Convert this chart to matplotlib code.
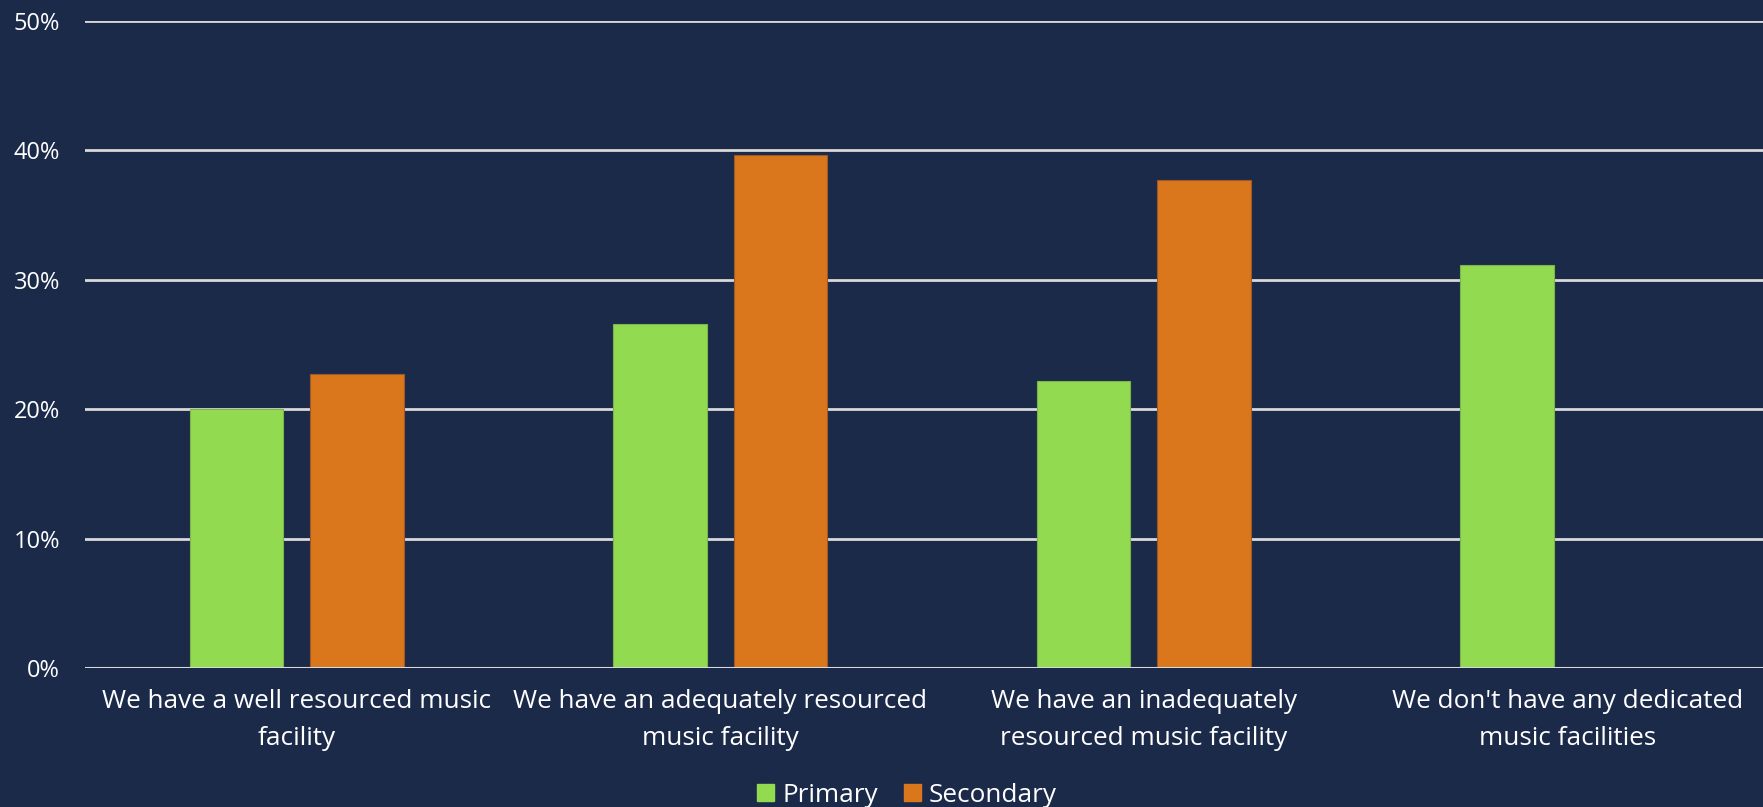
import numpy as np
import matplotlib
matplotlib.use("Agg")
import matplotlib.pyplot as plt
from matplotlib.ticker import PercentFormatter, MultipleLocator
from matplotlib.patches import Patch

categories = [
    "We have a well resourced music\nfacility",
    "We have an adequately resourced\nmusic facility",
    "We have an inadequately\nresourced music facility",
    "We don't have any dedicated\nmusic facilities",
]
primary = [0.200, 0.266, 0.222, 0.311]
secondary = [0.227, 0.396, 0.377, np.nan]

BG = "#1C2A4A"
GREEN = "#92DB50"
ORANGE = "#DA771D"
GRID = "#D9D9D9"
TEXT = "#FFFFFF"

plt.rcParams["font.family"] = ["Open Sans", "DejaVu Sans"]

fig = plt.figure(figsize=(17.63, 8.07), dpi=100, facecolor=BG)
ax = fig.add_axes([85 / 1763, 1 - 668.3 / 807, 1694 / 1763, (668.3 - 20.7) / 807])
ax.set_facecolor(BG)

x = np.arange(len(categories))
width = 0.221
offset = 0.1423
ax.bar(x - offset, primary, width, color=GREEN, edgecolor="#7DB548",
       linewidth=0.8, label="Primary", zorder=3)
ax.bar(x + offset, secondary, width, color=ORANGE, edgecolor="#9C5A24",
       linewidth=0.8, label="Secondary", zorder=3)

ax.set_xlim(-0.5, 3.5)
ax.set_ylim(0, 0.5)
ax.yaxis.set_major_locator(MultipleLocator(0.1))
ax.yaxis.set_major_formatter(PercentFormatter(1.0, decimals=0))
ax.grid(axis="y", color=GRID, linewidth=2.0, zorder=0)
ax.set_axisbelow(True)

for s in ax.spines.values():
    s.set_visible(False)
ax.axhline(0, color=GRID, linewidth=2.2, zorder=4)

ax.set_xticks(x)
ax.set_xticklabels(categories, fontsize=18.8, color=TEXT, linespacing=1.65)
ax.tick_params(axis="x", length=0, pad=15)
ax.tick_params(axis="y", length=0, pad=18, labelsize=17, labelcolor=TEXT)

handles = [Patch(facecolor=GREEN, edgecolor=GREEN), Patch(facecolor=ORANGE, edgecolor=ORANGE)]
fig.legend(handles, ["Primary", "Secondary"], loc="center", bbox_to_anchor=(907 / 1763, 1 - 795 / 807),
           ncol=2, frameon=False, fontsize=18.8, labelcolor=TEXT, handlelength=0.65,
           handleheight=0.65, handletextpad=0.3, columnspacing=1.0)

fig.savefig("out.png", dpi=100, facecolor=BG)
